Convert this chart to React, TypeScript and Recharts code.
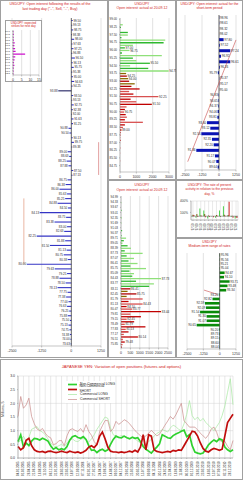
import React from 'react'
import {
  BarChart, Bar, XAxis, YAxis, CartesianGrid, ReferenceLine, LabelList, Cell,
  LineChart, Line,
} from 'recharts'

const FONT = '"Liberation Sans", Arial, Helvetica, sans-serif'
const TITLE_RED = '#d01818'

// --- top-left: open interest after last trading day ---
const TL_STRIKES = [
  '99.50', '99.13', '98.75', '98.38', '98.00', '97.63', '97.25', '96.88', '96.50', '96.13',
  '95.75', '95.38', '95.00', '94.63', '94.25', '93.88', '93.50', '93.13', '92.75', '92.38',
  '92.00', '91.63', '91.25', '90.88', '90.50', '90.13', '89.75', '89.38', '89.00', '88.63',
  '88.25', '87.88', '87.50', '87.13', '86.75', '86.38', '86.00', '85.63', '85.25', '84.88',
  '84.50', '84.13', '83.75', '83.38', '83.00', '82.63', '82.25', '81.88', '81.50', '81.13',
  '80.75', '80.38', '80.00', '79.63', '79.25', '78.88', '78.50', '78.13', '77.75', '77.38',
  '77.00', '76.63', '76.25', '75.88', '75.50', '75.13', '74.75', '74.38', '74.00', '73.63',
]
const TL_OI = [
  60, 40, 80, 30, 120, 50, 90, 40, 150, 60,
  100, 40, 70, 120, 50, -550, 80, 40, 100, 60,
  30, 90, 70, -120, -80, 60, 110, 40, -150, -90,
  -200, -120, 80, 50, -160, -240, -500, -180, -260, -580,
  -140, -1330, -220, -710, -180, -300, -1460, -260, -900, -200,
  -320, -150, -1875, -700, -180, -500, -240, -580, -160, -220,
  -120, -180, -90, -150, -60, -120, -80, -60, -40, -30,
]

// inset: expected strikes
const EXP_STRIKES = [
  '100.0', '99.5', '99.0', '98.5', '98.0', '97.5', '97.0', '96.5',
  '96.0', '95.5', '95.0', '94.5', '94.0', '93.5', '93.0', '92.5',
]
const EXP_VALUES = [0.3, 0.5, 0.4, 0.6, 1.0, 0.8, 1.2, 1.5, 7.0, 1.3, 0.9, 0.6, 0.8, 0.5, 0.4, 0.3]

// --- middle top: open interest actual ---
const MT_STRIKES = [
  '99.00', '98.75', '98.50', '98.25', '98.00', '97.75', '97.50', '97.25', '97.00', '96.75',
  '96.50', '96.25', '96.00', '95.75', '95.50', '95.25', '95.00', '94.75', '94.50', '94.25',
  '94.00', '93.75', '93.50', '93.25', '93.00', '92.75', '92.50', '92.25', '92.00', '91.75',
  '91.50', '91.25', '91.00', '90.75', '90.50', '90.25', '90.00', '89.75', '89.50', '89.25',
  '89.00', '88.75', '88.50', '88.25', '88.00', '87.75', '87.50', '87.25', '87.00', '86.75',
  '86.50', '86.25', '86.00', '85.75', '85.50', '85.25', '85.00', '84.75', '84.50', '84.25',
]
const MT_OI = [
  0, 0, 170, 60, 0, 480, 480, 90, 2770, 2670,
  790, 300, 580, 120, 2560, 790, 1000, 1830, 620, 1730,
  2980, 375, 420, 500, 560, 900, 700, 1200, 560, 820,
  2350, 650, 1000, 1950, 400, 300, 250, 350, 420, 300,
  1400, 300, 180, 90, 60, 30, 20, 40, 10, 0,
  20, 0, 10, 0, 0, 10, 0, 0, 0, 0,
]

// --- middle bottom: open interest actual ---
const MB_STRIKES = [
  '94.99', '94.66', '94.33', '94.00', '93.67', '93.34', '93.01', '92.68', '92.35', '92.02',
  '91.69', '91.36', '91.03', '90.70', '90.37', '90.04', '89.71', '89.38', '89.05', '88.72',
  '88.39', '88.06', '87.73', '87.40', '87.07', '86.74', '86.41', '86.08', '85.75', '85.42',
  '85.09', '84.76', '84.43', '84.10', '83.77', '83.44', '83.11', '82.78', '82.45', '82.12',
  '81.79', '81.46', '81.13', '80.80', '80.47', '80.14', '79.81', '79.48', '79.15', '78.82',
  '78.49', '78.16', '77.83', '77.50', '77.17', '76.84', '76.51', '76.18', '75.85', '75.52',
]
const MB_OI = [
  0, 0, 20, 0, 0, 30, 0, 0, 40, 0,
  20, 0, 0, 60, 0, 30, 270, 150, 80, 350,
  530, 200, 1150, 300, 690, 400, 880, 500, 1330, 450,
  690, 600, 2130, 800, 1750, 1500, 500, 350, 820, 300,
  1150, 400, 1150, 300, 600, 2130, 500, 1060, 300, 700,
  200, 1300, 250, 400, 150, 900, 100, 200, 80, 50,
]

// --- right top: short-term period ---
const RT_STRIKES = [
  '98.96', '98.61', '98.32', '98.02', '97.80', '97.52', '97.24', '96.92', '96.61', '96.26',
  '95.79', '95.37', '95.17', '95.00', '94.83', '94.65', '94.37', '94.06', '93.81', '93.60',
  '93.12', '92.56', '92.35', '92.20', '91.36', '91.17', '90.07', '89.64',
]
const RT_OI = [
  20, 20, 10, 10, 340, 60, 830, 150, 830, 60,
  -80, 20, 20, 10, -30, -40, -50, -100, -120, -880,
  -640, -1300, -515, -390, -1670, -300, -200, -100,
]

// --- right middle: activity vs previous day, % ---
const RM_STRIKES = [
  '97.50', '97.00', '96.50', '96.00', '95.50', '95.00',
  '94.50', '94.00', '93.50', '93.00', '92.50', '92.00',
]
const RM_CALLS = [10, -40, 200, 150, -60, -10, -40, 150, 260, 20, -20, -60]
const RM_PUTS = [40, 60, 20, 60, 20, 0, 30, -20, 40, 30, 10, -30]
const RM_TOTAL = [30, -20, 10, -30, -20, -30, 10, 0, 10, 380, -40, -50]

// --- right bottom: medium-term range ---
const RB_STRIKES = [
  '95.96', '95.56', '95.21', '95.04', '94.67', '94.10', '93.71', '93.48', '93.34', '93.20',
  '92.82', '92.59', '92.09', '91.54', '91.30', '91.07', '90.65', '90.20', '89.73', '89.15',
  '88.60', '88.04',
]
const RB_OI = [
  30, 20, 10, 20, 380, 330, 760, 600, 500, -60,
  -550, -1130, -1050, -1500, -1000, -1000, -1760, -60, -40, -30,
  -20, -20,
]

// --- bottom: variation of open positions, millions $ ---
const DATES = [
  '04.01.2005', '01.02.2005', '01.03.2005', '29.03.2005', '26.04.2005', '24.05.2005', '21.06.2005', '19.07.2005',
  '16.08.2005', '13.09.2005', '11.10.2005', '08.11.2005', '06.12.2005', '03.01.2006', '31.01.2006', '28.02.2006',
  '28.03.2006', '25.04.2006', '23.05.2006', '20.06.2006', '18.07.2006', '15.08.2006', '12.09.2006', '10.10.2006',
  '07.11.2006', '05.12.2006', '02.01.2007', '30.01.2007', '27.02.2007', '27.03.2007', '24.04.2007', '22.05.2007',
  '19.06.2007', '17.07.2007', '14.08.2007', '11.09.2007', '09.10.2007', '06.11.2007', '04.12.2007', '01.01.2008',
  '29.01.2008', '26.02.2008', '25.03.2008', '22.04.2008', '20.05.2008', '17.06.2008', '15.07.2008', '12.08.2008',
  '09.09.2008', '07.10.2008', '04.11.2008', '02.12.2008', '30.12.2008', '27.01.2009', '24.02.2009', '24.03.2009',
  '21.04.2009', '19.05.2009', '16.06.2009', '14.07.2009', '11.08.2009', '08.09.2009', '06.10.2009', '03.11.2009',
  '01.12.2009', '29.12.2009', '26.01.2010', '23.02.2010', '23.03.2010', '20.04.2010', '18.05.2010', '15.06.2010',
  '13.07.2010', '10.08.2010', '07.09.2010', '05.10.2010', '02.11.2010', '30.11.2010', '28.12.2010', '25.01.2011',
]
const NC_LONG = [
  0.60, 0.85, 0.40, 0.55, 0.45, 0.62, 0.72, 0.70, 0.66, 0.72,
  0.68, 0.62, 0.45, 0.32, 0.38, 0.30, 0.34, 0.30, 0.42, 0.65,
  0.78, 0.82, 0.75, 0.72, 0.78, 0.68, 0.45, 0.28, 0.30, 0.20,
  0.28, 0.32, 0.25, 0.30, 0.50, 0.68, 0.80, 0.75, 0.74, 0.80,
  0.74, 0.70, 0.76, 0.72, 0.74, 0.60, 0.42, 0.32, 0.25, 0.18,
  0.30, 0.40, 0.52, 0.85, 0.80, 0.74, 0.72, 0.82, 0.88, 0.92,
  0.98, 1.02, 0.78, 0.85, 0.45, 0.22, 0.18, 0.15, 0.18, 0.32,
  0.48, 0.58, 0.66, 0.60, 0.70, 0.66, 0.40, 0.30, 0.24, 0.30,
]
const NC_SHORT = [
  0.42, 0.30, 0.38, 0.65, 0.72, 0.45, 0.30, 0.24, 0.22, 0.24,
  0.20, 0.24, 0.25, 0.22, 0.20, 0.22, 0.25, 0.22, 0.20, 0.25,
  0.22, 0.20, 0.22, 0.18, 0.22, 0.28, 0.40, 0.45, 0.38, 0.50,
  0.80, 0.95, 0.70, 0.40, 0.25, 0.22, 0.22, 0.20, 0.22, 0.20,
  0.22, 0.25, 0.22, 0.28, 0.22, 0.40, 0.85, 0.30, 0.85, 0.80,
  0.30, 0.24, 0.22, 0.20, 0.22, 0.24, 0.22, 0.28, 0.25, 0.30,
  0.28, 0.45, 0.62, 0.80, 0.98, 0.95, 0.80, 0.55, 0.35, 0.25,
  0.22, 0.30, 0.35, 0.32, 0.28, 0.32, 0.80, 1.30, 1.45, 1.60,
]
const C_LONG = [
  0.55, 0.65, 0.80, 0.60, 0.75, 1.05, 1.10, 1.15, 1.00, 0.95,
  0.85, 0.70, 0.55, 0.45, 0.40, 0.45, 0.50, 0.42, 0.55, 0.65,
  0.70, 0.62, 0.60, 0.68, 0.72, 0.66, 0.58, 0.70, 0.85, 1.05,
  1.20, 1.35, 1.50, 1.45, 1.10, 0.85, 0.80, 0.78, 0.82, 0.80,
  0.76, 0.72, 0.75, 0.70, 0.62, 0.55, 0.48, 0.52, 0.60, 0.68,
  0.80, 0.90, 0.95, 1.05, 1.00, 0.95, 1.10, 1.20, 1.15, 1.05,
  1.00, 1.25, 1.60, 2.10, 1.55, 1.40, 1.50, 1.35, 1.45, 1.30,
  1.20, 1.10, 1.00, 1.15, 1.30, 1.55, 1.90, 2.40, 2.90, 1.95,
]
const C_SHORT = [
  1.52, 2.25, 1.82, 1.94, 2.19, 1.52, 1.25, 1.06, 1.00, 1.08,
  0.91, 0.79, 0.74, 0.49, 0.52, 0.63, 0.64, 0.45, 0.81, 1.03,
  1.07, 1.01, 0.97, 1.08, 0.94, 1.22, 0.97, 0.83, 0.60, 0.47,
  0.97, 1.18, 1.37, 1.37, 0.97, 1.08, 1.34, 1.23, 1.30, 1.40,
  1.35, 1.25, 1.13, 1.00, 0.91, 0.81, 0.74, 0.81, 0.91, 1.01,
  0.91, 0.81, 0.87, 1.03, 1.20, 1.35, 1.52, 1.42, 1.58, 1.79,
  2.00, 1.37, 1.25, 1.13, 1.13, 1.13, 1.03, 0.91, 0.81, 0.72,
  0.85, 1.06, 1.13, 0.94, 0.64, 0.61, 0.61, 0.43, 0.30, 0.64,
]
const VAR_TICKS = [0, 0.25, 0.5, 0.75, 1, 1.25, 1.5, 1.75, 2, 2.25, 2.5, 2.75, 3]

const SERIES = [
  { key: 'cl', label: 'Commercial LONG', color: '#a6e8a0', width: 0.7 },
  { key: 'cs', label: 'Commercial SHORT', color: '#c98a88', width: 0.7 },
  { key: 'ncl', label: 'Non-Commercial LONG', color: '#2fd12f', width: 1.7 },
  { key: 'ncs', label: 'Non-Commercial SHORT', color: '#c00d0d', width: 1.7 },
]
const LEGEND_ORDER = ['ncl', 'ncs', 'cl', 'cs']

type Row = { name: string; v: number }
const rows = (names: string[], vals: number[]): Row[] =>
  names.map((name, i) => ({ name, v: vals[i] ?? 0 }))

const TL_ROWS = rows(TL_STRIKES, TL_OI)
const EXP_ROWS = rows(EXP_STRIKES, EXP_VALUES)
const MT_ROWS = rows(MT_STRIKES, MT_OI)
const MB_ROWS = rows(MB_STRIKES, MB_OI)
const RT_ROWS = rows(RT_STRIKES, RT_OI)
const RB_ROWS = rows(RB_STRIKES, RB_OI)
const RM_ROWS = RM_STRIKES.map((name, i) => ({ name, a: RM_CALLS[i], b: RM_PUTS[i], c: RM_TOTAL[i] }))
const VAR_ROWS = DATES.map((d, i) => ({
  d, ncl: NC_LONG[i], ncs: NC_SHORT[i], cl: C_LONG[i], cs: C_SHORT[i],
}))

// strike label sitting at the far end of its bar
function endLabel(data: Row[], minAbs: number, fontSize: number) {
  return (props: any) => {
    const vb = props.viewBox ?? props
    const row = data[props.index]
    if (!row || !vb || Math.abs(row.v) < minAbs) return null
    const x = Number(vb.x), w = Number(vb.width) || 0
    const y = Number(vb.y), h = Number(vb.height) || 0
    const neg = row.v < 0
    const left = Math.min(x, x + w)
    const right = Math.max(x, x + w)
    return (
      <text
        x={neg ? left - 0.7 : right + 0.7}
        y={y + h / 2}
        dy="0.35em"
        fontSize={fontSize}
        fill="#2a2a2a"
        fontFamily={FONT}
        textAnchor={neg ? 'end' : 'start'}
      >
        {row.name}
      </text>
    )
  }
}

function VTick(props: any) {
  const { x, y, payload, fs } = props
  const yy = y + 0.5
  return (
    <text x={x} y={yy} transform={`rotate(-90 ${x} ${yy})`} textAnchor="end" dy="0.35em"
      fontSize={fs} fill="#333" fontFamily={FONT}>
      {payload.value}
    </text>
  )
}

function Panel({ left, top, width, height, children }: any) {
  return (
    <div style={{
      position: 'absolute', left, top, width, height, background: '#fff',
      boxShadow: 'inset 0 0 0 1px #a0a0a0',
    }}>
      {children}
    </div>
  )
}

function Title({ lines, top, left = 0, width, size = 3.8 }: any) {
  return (
    <div style={{
      position: 'absolute', top, left, width, textAlign: 'center', color: TITLE_RED,
      fontSize: size, lineHeight: `${size * 1.3}px`, whiteSpace: 'nowrap', zIndex: 2,
    }}>
      {lines.map((l: string) => <div key={l}>{l}</div>)}
    </div>
  )
}

type HBarProps = {
  data: Row[]
  width: number
  height: number
  top?: number
  left?: number
  margin: { top: number; right: number; bottom: number; left: number }
  domain: [number, number]
  ticks: number[]
  xHeight: number
  yWidth?: number
  yInterval?: number
  yFont?: number
  barSize: number
  colorOf: (i: number, v: number) => string
  labelMin?: number
  labelFont?: number
  zero?: boolean
  children?: React.ReactNode
}

function HBar(p: HBarProps) {
  return (
    <div style={{ position: 'absolute', left: p.left ?? 0, top: p.top ?? 0 }}>
      <BarChart layout="vertical" width={p.width} height={p.height} data={p.data}
        margin={p.margin} barCategoryGap={0}>
        <CartesianGrid horizontal={false} stroke="#c4c4c4" strokeWidth={0.5} />
        <XAxis type="number" domain={p.domain} ticks={p.ticks} interval={0} height={p.xHeight}
          allowDataOverflow tickSize={1.5} stroke="#8a8a8a" strokeWidth={0.5}
          tick={{ fontSize: 3.5, fill: '#333', fontFamily: FONT }} />
        <YAxis type="category" dataKey="name" width={p.yWidth ?? 0} hide={!p.yWidth}
          interval={p.yInterval ?? 0} tickSize={1} stroke="#8a8a8a" strokeWidth={0.5}
          tick={{ fontSize: p.yFont ?? 3, fill: '#333', fontFamily: FONT }} />
        {p.zero && <ReferenceLine x={0} stroke="#3a3a3a" strokeWidth={0.7} />}
        <Bar dataKey="v" barSize={p.barSize} isAnimationActive={false}>
          {p.data.map((r, i) => <Cell key={r.name} fill={p.colorOf(i, r.v)} />)}
          {p.labelMin !== undefined && (
            <LabelList dataKey="name" content={endLabel(p.data, p.labelMin, p.labelFont ?? 3)} />
          )}
        </Bar>
        {p.children}
      </BarChart>
    </div>
  )
}

const mtColor = (i: number) =>
  i < 21 ? (i % 2 ? '#2fb82f' : '#8fe07a') : i < 27 ? (i % 2 ? '#8a6a00' : '#b00000') : (i % 2 ? '#c00000' : '#d85050')
const mbColor = (i: number) =>
  i < 36 ? (i % 2 ? '#2fb82f' : '#8fe07a') : i < 40 ? (i % 2 ? '#8a6a00' : '#b00000') : (i % 2 ? '#c00000' : '#d85050')

function VarLegend() {
  return (
    <div style={{
      position: 'absolute', left: 65, top: 22, width: 50, height: 21, background: '#fff',
      fontSize: 3.3, lineHeight: '5px', color: '#222', zIndex: 2, paddingTop: 0.5,
    }}>
      {LEGEND_ORDER.map((k) => {
        const s = SERIES.find((x) => x.key === k)!
        return (
          <div key={k} style={{ display: 'flex', alignItems: 'center', height: 5 }}>
            <svg width={12} height={5} style={{ marginLeft: 2 }}>
              <line x1={1} x2={10} y1={2.5} y2={2.5} stroke={s.color} strokeWidth={s.width} />
            </svg>
            <span style={{ marginLeft: 1 }}>{s.label}</span>
          </div>
        )
      })}
    </div>
  )
}

export default function App() {
  return (
    <div style={{ position: 'fixed', left: 0, top: 0, width: 243, height: 480, background: '#fff', fontFamily: FONT }}>
      {/* top-left */}
      <Panel left={0} top={0} width={108} height={358}>
        <Title top={2} left={0} width={100} size={3.6}
          lines={['USD/JPY: Open interest following the results of the', 'last trading day ("..", Sell, "..", Buy)']} />
        <HBar data={TL_ROWS} width={108} height={358} margin={{ top: 18, right: 7, bottom: 0, left: 12 }}
          domain={[-2500, 1250]} ticks={[-2500, -1250, 0, 1250]} xHeight={12} barSize={1.1}
          colorOf={(i) => (i === 15 ? '#202060' : '#3434c4')} labelMin={0} labelFont={3} zero>
          <ReferenceLine segment={[{ x: -2000, y: TL_STRIKES[38] }, { x: -2000, y: TL_STRIKES[52] }]}
            stroke="#e4a48c" strokeWidth={0.8} />
          <ReferenceLine segment={[{ x: 1150, y: TL_STRIKES[26] }, { x: 1150, y: TL_STRIKES[33] }]}
            stroke="#d06060" strokeWidth={0.6} />
        </HBar>
        <div style={{ position: 'absolute', left: 5, top: 20, width: 37, height: 62, background: '#fff', boxShadow: 'inset 0 0 0 1px #a0a0a0', zIndex: 1 }}>
          <Title top={1.5} left={0} width={37} size={2.9} lines={['USD/JPY: expected', 'strikes for next day']} />
          <HBar data={EXP_ROWS} width={37} height={62} margin={{ top: 10, right: 3, bottom: 0, left: 1 }}
            domain={[0, 15]} ticks={[0, 5, 10, 15]} xHeight={7} yWidth={7} yFont={2.5} barSize={1.3}
            colorOf={() => '#cc10cc'} />
        </div>
      </Panel>

      {/* middle top */}
      <Panel left={108} top={0} width={68} height={180}>
        <Title top={1.5} width={68} size={3.5} lines={['USD/JPY', 'Open interest: actual at 20.09.12']} />
        <HBar data={MT_ROWS} width={68} height={178} margin={{ top: 18, right: 7, bottom: 0, left: 0 }}
          domain={[0, 3000]} ticks={[0, 1000, 2000, 3000]} xHeight={6} yWidth={12} yInterval={2} yFont={3}
          barSize={1.3} colorOf={mtColor} labelMin={1100} labelFont={3} />
      </Panel>

      {/* middle bottom */}
      <Panel left={108} top={180} width={68} height={178}>
        <Title top={3} width={68} size={3.5} lines={['USD/JPY', 'Open interest: actual at 20.09.12']} />
        <HBar data={MB_ROWS} width={68} height={176} margin={{ top: 16, right: 8, bottom: 0, left: 0 }}
          domain={[0, 2500]} ticks={[0, 500, 1000, 1500, 2000, 2500]} xHeight={8} yWidth={13} yInterval={1}
          yFont={3} barSize={1.3} colorOf={mbColor} labelMin={800} labelFont={3} />
      </Panel>

      {/* right top */}
      <Panel left={176} top={0} width={67} height={180}>
        <Title top={1.5} width={67} size={3.4} lines={['USD/JPY: Open interest: actual for the', 'short-term period']} />
        <HBar data={RT_ROWS} width={67} height={178} margin={{ top: 15, right: 7, bottom: 0, left: 9 }}
          domain={[-2500, 1250]} ticks={[-2500, -1250, 0, 1250]} xHeight={8} barSize={3}
          colorOf={() => '#0a14b4'} labelMin={0} labelFont={3.1} zero>
          <ReferenceLine segment={[{ x: 1250, y: RT_STRIKES[4] }, { x: -2300, y: RT_STRIKES[26] }]}
            stroke="#c84a4a" strokeWidth={0.6} />
        </HBar>
      </Panel>

      {/* right middle */}
      <Panel left={176} top={180} width={67} height={58}>
        <Title top={3} width={67} size={3.3}
          lines={['USD/JPY: The rate of present', 'activity in relation to the previous', 'day, %']} />
        <div style={{ position: 'absolute', left: 0, top: 0 }}>
          <BarChart width={67} height={54} data={RM_ROWS} margin={{ top: 21, right: 5, bottom: 0, left: 0 }}
            barGap={0} barCategoryGap={0.6}>
            <CartesianGrid stroke="#c8c8c8" strokeWidth={0.4} />
            <XAxis dataKey="name" interval={0} height={14} tickSize={1} stroke="#8a8a8a" strokeWidth={0.5}
              tick={<VTick fs={2.7} />} />
            <YAxis domain={[-100, 400]} ticks={[-100, 0, 100, 200, 300, 400]} width={15} tickSize={1}
              stroke="#8a8a8a" strokeWidth={0.5} tickFormatter={(v: number) => `${v}%`}
              tick={{ fontSize: 3.1, fill: '#333', fontFamily: FONT }} />
            <ReferenceLine y={0} stroke="#555" strokeWidth={0.5} />
            <Bar dataKey="a" fill="#3ccc3c" isAnimationActive={false} />
            <Bar dataKey="b" fill="#7a5c00" isAnimationActive={false} />
            <Bar dataKey="c" fill="#cc1010" isAnimationActive={false} />
          </BarChart>
        </div>
      </Panel>

      {/* right bottom */}
      <Panel left={176} top={238} width={67} height={120}>
        <Title top={2} width={67} size={3.4} lines={['USD/JPY', 'Medium-term range of rates']} />
        <HBar data={RB_ROWS} width={67} height={119} margin={{ top: 15, right: 7, bottom: 0, left: 11 }}
          domain={[-2500, 1250]} ticks={[-2500, -1250, 0, 1250]} xHeight={8} barSize={2.6}
          colorOf={() => '#0a8a0a'} labelMin={0} labelFont={3.1} zero>
          <ReferenceLine segment={[{ x: -1200, y: RB_STRIKES[8] }, { x: -150, y: RB_STRIKES[9] }]}
            stroke="#c84a4a" strokeWidth={0.6} />
        </HBar>
      </Panel>

      {/* bottom: variation of open positions */}
      <Panel left={0} top={359} width={243} height={121}>
        <Title top={4.5} width={243} size={4.1}
          lines={['JAPANESE YEN: Variation of open positions (futures and options)']} />
        <div style={{ position: 'absolute', left: 0, top: 0 }}>
          <LineChart width={243} height={119} data={VAR_ROWS} margin={{ top: 17, right: 10, bottom: 0, left: 0 }}>
            <CartesianGrid stroke="#d2d2d2" strokeWidth={0.5} />
            <XAxis dataKey="d" interval={1} height={20} tickSize={1} stroke="#8a8a8a" strokeWidth={0.5}
              tick={<VTick fs={2.9} />} />
            <YAxis domain={[0, 3]} ticks={VAR_TICKS} width={18} tickSize={1} stroke="#8a8a8a" strokeWidth={0.5}
              tickFormatter={(v: number) => v.toFixed(1)}
              tick={{ fontSize: 3.5, fill: '#333', fontFamily: FONT }}
              label={{ value: 'Millions, $', angle: -90, position: 'insideLeft', offset: 3, fontSize: 3.5, fill: '#333' }} />
            {SERIES.map((s) => (
              <Line key={s.key} type="linear" dataKey={s.key} stroke={s.color} strokeWidth={s.width}
                dot={false} isAnimationActive={false} />
            ))}
          </LineChart>
        </div>
        <VarLegend />
      </Panel>
    </div>
  )
}
